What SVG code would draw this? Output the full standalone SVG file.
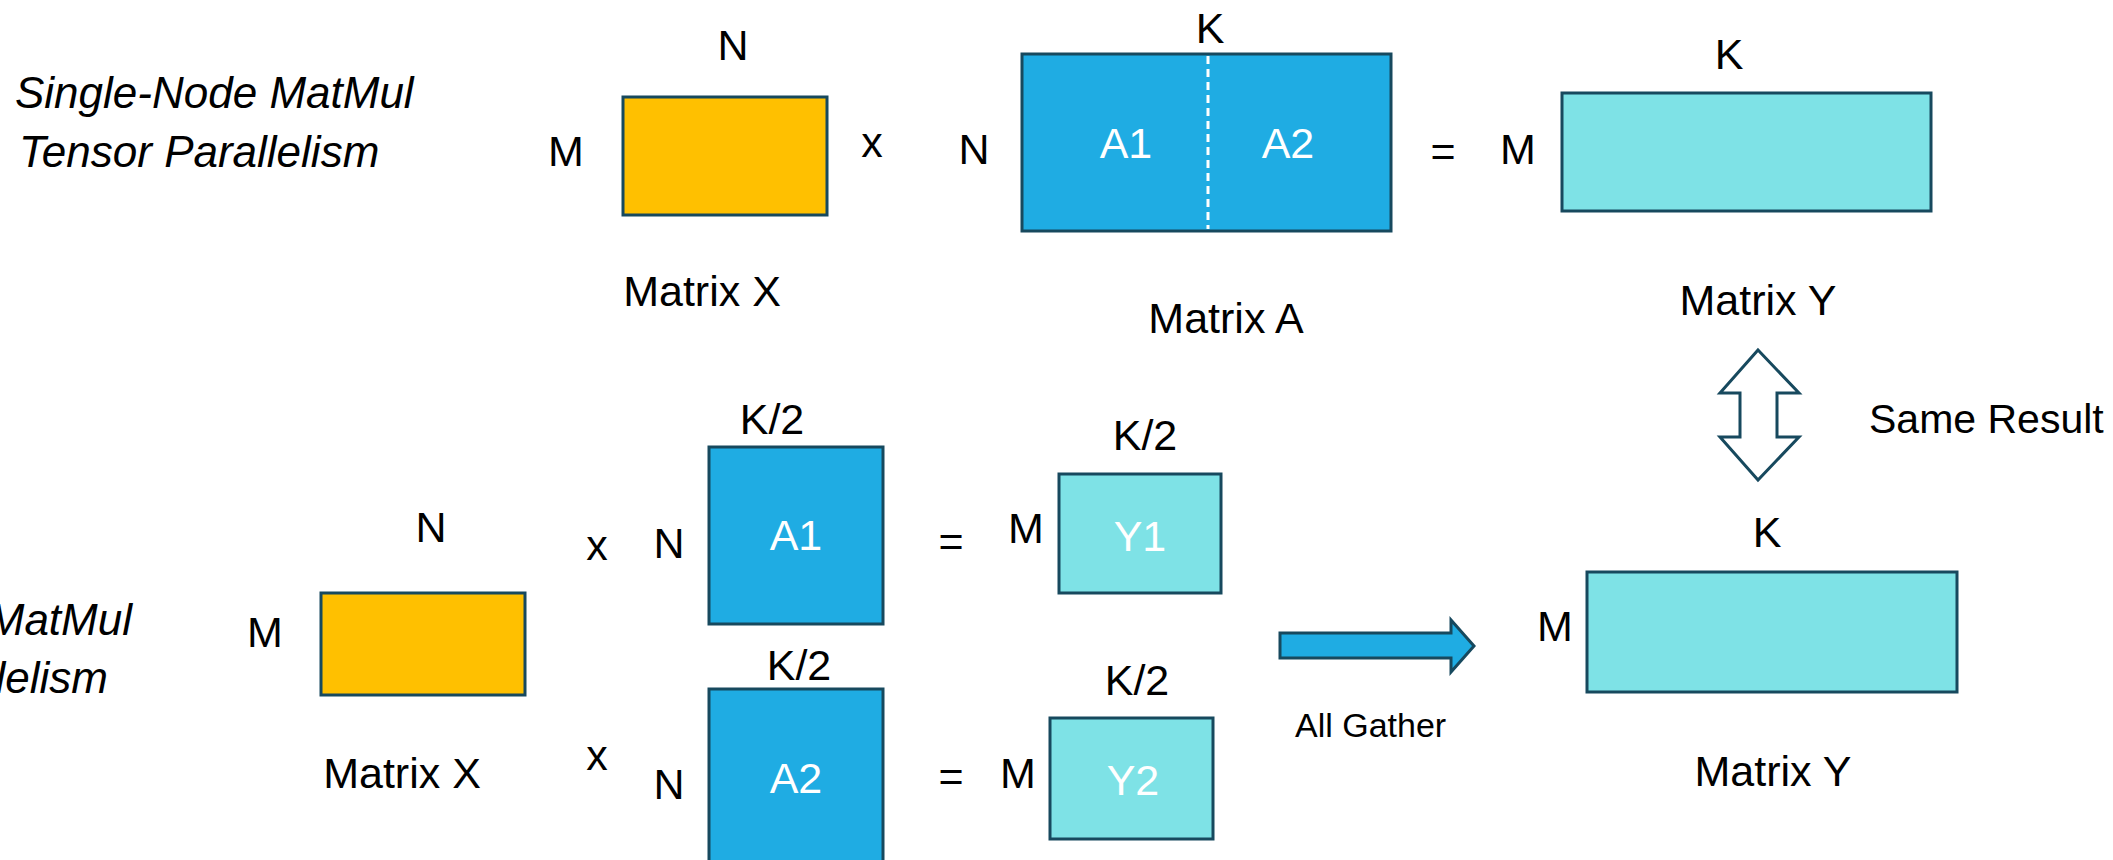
<svg xmlns="http://www.w3.org/2000/svg" width="2113" height="860" viewBox="0 0 2113 860">
<style>
text{font-family:"Liberation Sans",Arial,sans-serif;fill:#000}
.l{font-size:43px;text-anchor:middle}
.w{fill:#fff}
.t{font-size:44px;font-style:italic}
.e{text-anchor:end}
.s{font-size:34px}
.box{stroke:#17495E;stroke-width:3}
.xm{fill:#FFC000}
.am{fill:#1FACE3}
.ym{fill:#7EE2E6}
</style>
<rect width="2113" height="860" fill="#fff"/>
<g id="titles">
<text class="t" x="15" y="108">Single-Node MatMul</text>
<text class="t" x="19" y="167">Tensor Parallelism</text>
<text class="t e" x="132" y="635">MatMul</text>
<text class="t e" x="108" y="693">llelism</text>
</g>
<g id="top-matrix-x">
<rect class="box xm" x="623" y="97" width="204" height="118"/>
<text class="l" x="733" y="60">N</text>
<text class="l" x="566" y="166">M</text>
<text class="l" x="702" y="306">Matrix X</text>
</g>
<text class="l" x="872" y="157">x</text>
<g id="top-matrix-a">
<rect class="box am" x="1022" y="54" width="369" height="177"/>
<line x1="1208" y1="56" x2="1208" y2="229" stroke="#fff" stroke-width="3" stroke-dasharray="8,5"/>
<text class="l" x="974" y="164">N</text>
<text class="l" x="1210" y="43">K</text>
<text class="l w" x="1126" y="158">A1</text>
<text class="l w" x="1288" y="158">A2</text>
<text class="l" x="1226" y="333">Matrix A</text>
</g>
<text class="l" x="1443" y="166">=</text>
<g id="top-matrix-y">
<rect class="box ym" x="1562" y="93" width="369" height="118"/>
<text class="l" x="1518" y="164">M</text>
<text class="l" x="1729" y="69">K</text>
<text class="l" x="1758" y="315">Matrix Y</text>
</g>
<g id="bottom-matrix-x">
<rect class="box xm" x="321" y="593" width="204" height="102"/>
<text class="l" x="431" y="542">N</text>
<text class="l" x="265" y="647">M</text>
<text class="l" x="402" y="788">Matrix X</text>
</g>
<g id="shard-a1">
<text class="l" x="597" y="560">x</text>
<text class="l" x="669" y="558">N</text>
<rect class="box am" x="709" y="447" width="174" height="177"/>
<text class="l" x="772" y="434">K/2</text>
<text class="l w" x="796" y="550">A1</text>
</g>
<text class="l" x="951" y="556">=</text>
<g id="shard-y1">
<text class="l" x="1026" y="543">M</text>
<rect class="box ym" x="1059" y="474" width="162" height="119"/>
<text class="l" x="1145" y="450">K/2</text>
<text class="l w" x="1140" y="551">Y1</text>
</g>
<g id="shard-a2">
<text class="l" x="597" y="770">x</text>
<text class="l" x="669" y="799">N</text>
<rect class="box am" x="709" y="689" width="174" height="180"/>
<text class="l" x="799" y="680">K/2</text>
<text class="l w" x="796" y="793">A2</text>
</g>
<text class="l" x="951" y="791">=</text>
<g id="shard-y2">
<text class="l" x="1018" y="788">M</text>
<rect class="box ym" x="1050" y="718" width="163" height="121"/>
<text class="l" x="1137" y="695">K/2</text>
<text class="l w" x="1133" y="795">Y2</text>
</g>
<g id="bottom-matrix-y">
<rect class="box ym" x="1587" y="572" width="370" height="120"/>
<text class="l" x="1767" y="547">K</text>
<text class="l" x="1555" y="641">M</text>
<text class="l" x="1773" y="786">Matrix Y</text>
</g>
<g id="connectors">
<path class="box" fill="#fff" d="M1758 350 L1799 393 L1777 393 L1777 437 L1799 437 L1758 480 L1720 437 L1740 437 L1740 393 L1720 393 Z"/>
<text x="1869" y="433" style="font-size:41px">Same Result</text>
<path class="box am" d="M1280 633 L1451 633 L1451 620 L1474 646 L1451 672 L1451 658 L1280 658 Z"/>
<text class="s" x="1295" y="737">All Gather</text>
</g>
</svg>
